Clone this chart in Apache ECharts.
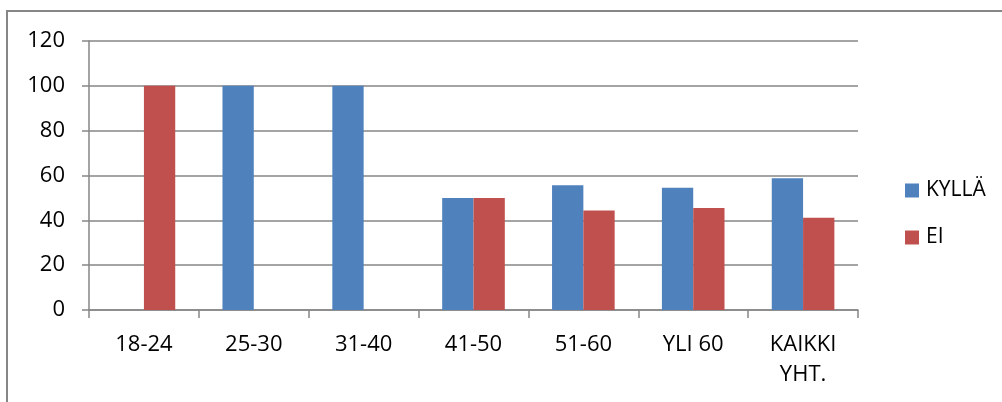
<!DOCTYPE html>
<html>
<head>
<meta charset="utf-8">
<script src="https://cdn.jsdelivr.net/npm/echarts@6/dist/echarts.min.js"></script>
<style>
  html, body { margin: 0; padding: 0; background: #fff; }
  #chart { width: 1002px; height: 402px; }
</style>
</head>
<body>
<div id="chart"></div>
<script>
// Age groups and answer shares (%)
const categories = ['18-24', '25-30', '31-40', '41-50', '51-60', 'YLI 60', 'KAIKKI\nYHT.'];
const kylla = [0, 100, 100, 50, 55.6, 54.5, 58.8];
const ei = [100, 0, 0, 50, 44.4, 45.5, 41.2];
const yTicks = { min: 0, max: 120, interval: 20 };

const FONT = '"Open Sans", "Liberation Sans", sans-serif';
const GRAY = '#868686';

const chart = echarts.init(document.getElementById('chart'), null, { renderer: 'canvas' });
chart.setOption({
  animation: false,
  backgroundColor: '#ffffff',
  textStyle: { fontFamily: FONT, color: '#000' },
  graphic: [{
    type: 'rect',
    shape: { x: 7, y: 11, width: 1200, height: 600 },
    style: { fill: 'none', stroke: GRAY, lineWidth: 2 },
    silent: true
  }],
  grid: { left: 89, right: 144, top: 41, bottom: 92, containLabel: false },
  legend: {
    orient: 'vertical',
    left: 900,
    top: 175,
    itemWidth: 14,
    itemHeight: 14,
    itemGap: 26,
    icon: 'rect',
    textStyle: { fontFamily: FONT, fontSize: 21, color: '#000', padding: [0, 0, 0, 2] },
    data: ['KYLLÄ', 'EI']
  },
  xAxis: {
    type: 'category',
    data: categories,
    axisLine: { lineStyle: { color: GRAY, width: 1.5 } },
    axisTick: { show: true, length: 8, lineStyle: { color: GRAY, width: 1.5 } },
    axisLabel: {
      interval: 0,
      margin: 20,
      fontFamily: FONT,
      fontSize: 22,
      color: '#000',
      lineHeight: 30
    }
  },
  yAxis: {
    type: 'value',
    min: yTicks.min,
    max: yTicks.max,
    interval: yTicks.interval,
    axisLine: { show: true, lineStyle: { color: GRAY, width: 1.5 } },
    axisTick: { show: true, length: 7, lineStyle: { color: GRAY, width: 1.5 } },
    splitLine: { lineStyle: { color: GRAY, width: 1.5 } },
    axisLabel: { margin: 24, fontFamily: FONT, fontSize: 22, color: '#000' }
  },
  series: [
    {
      name: 'KYLLÄ',
      type: 'bar',
      data: kylla,
      barGap: '0%',
      barCategoryGap: '43%',
      itemStyle: { color: '#4F81BD' }
    },
    {
      name: 'EI',
      type: 'bar',
      data: ei,
      barGap: '0%',
      barCategoryGap: '43%',
      itemStyle: { color: '#C0504D' }
    }
  ]
});
</script>
</body>
</html>
